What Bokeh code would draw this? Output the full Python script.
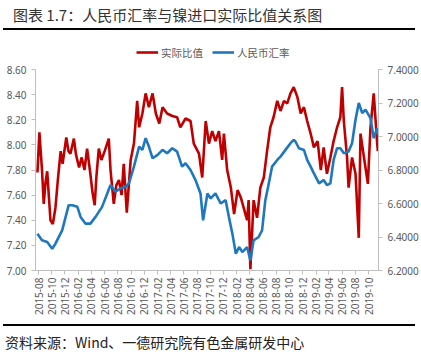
import math
import pandas as pd
from bokeh.plotting import figure
from bokeh.layouts import column
from bokeh.models import (Range1d, LinearAxis, FixedTicker, NumeralTickFormatter,
                          DatetimeTickFormatter, MonthsTicker, Legend, LegendItem,
                          ColumnDataSource, Div)
from bokeh.embed import file_html
from bokeh.resources import INLINE

# ---------------- data ----------------
ratio_dates = [
    "2015-07-27", "2015-08-05", "2015-08-17", "2015-08-25", "2015-09-02", "2015-09-10",
    "2015-09-18", "2015-09-25", "2015-10-06", "2015-10-18", "2015-10-29", "2015-11-11",
    "2015-11-20", "2015-12-07", "2015-12-17", "2015-12-26", "2016-01-11", "2016-01-21",
    "2016-02-04", "2016-02-16", "2016-02-29", "2016-03-12", "2016-03-27", "2016-04-06",
    "2016-04-16", "2016-04-24", "2016-05-05", "2016-05-17", "2016-06-01", "2016-06-20",
    "2016-06-28", "2016-07-13", "2016-07-25", "2016-08-06", "2016-08-18", "2016-08-28",
    "2016-09-11", "2016-09-29", "2016-10-14", "2016-10-29", "2016-11-07", "2016-11-22",
    "2016-12-07", "2016-12-22", "2017-01-08", "2017-01-23", "2017-02-08", "2017-02-23",
    "2017-03-16", "2017-04-09", "2017-05-01", "2017-05-16", "2017-06-09", "2017-07-02",
    "2017-07-17", "2017-08-10", "2017-08-25", "2017-09-10", "2017-09-25", "2017-10-10",
    "2017-10-25", "2017-11-10", "2017-11-25", "2017-12-03", "2017-12-18", "2018-01-04",
    "2018-01-19", "2018-02-04", "2018-02-19", "2018-03-04", "2018-03-20", "2018-03-27",
    "2018-04-04", "2018-04-19", "2018-05-05", "2018-05-20", "2018-06-05", "2018-06-20",
    "2018-07-05", "2018-07-20", "2018-08-06", "2018-08-21", "2018-09-06", "2018-09-21",
    "2018-10-06", "2018-10-21", "2018-11-07", "2018-11-22", "2018-12-07", "2018-12-22",
    "2019-01-07", "2019-01-22", "2019-02-08", "2019-02-23", "2019-03-08", "2019-03-23",
    "2019-04-08", "2019-04-23", "2019-05-09", "2019-05-24", "2019-06-01", "2019-06-09",
    "2019-06-24", "2019-07-01", "2019-07-17", "2019-08-02", "2019-08-17", "2019-08-25",
    "2019-09-10", "2019-09-28", "2019-10-10", "2019-10-25", "2019-11-10", "2019-11-13",
]
ratio_values = [
    7.78, 8.10, 7.80, 7.53, 7.70, 7.79,
    7.58, 7.40, 7.37, 7.50, 7.72, 7.95,
    7.85, 8.06, 7.95, 7.93, 8.05, 7.92,
    7.82, 7.90, 7.80, 7.97, 7.77, 7.62,
    7.52, 7.75, 7.97, 7.88, 7.95, 8.05,
    7.80, 7.53, 7.68, 7.72, 7.60, 7.85,
    7.46, 7.88, 8.01, 8.35, 8.14, 8.25,
    8.41, 8.30, 8.41, 8.25, 8.17, 8.30,
    8.25, 8.23, 8.22, 8.14, 8.21, 8.19,
    8.01, 7.93, 7.74, 8.19, 8.01, 8.11,
    8.03, 8.11, 7.88, 8.09, 7.80, 7.66,
    7.45, 7.64, 7.58, 7.50, 7.40, 7.56,
    7.01, 7.56, 7.42, 7.66, 7.74, 7.95,
    8.14, 8.22, 8.35, 8.27, 8.35, 8.33,
    8.41, 8.46, 8.38, 8.25, 8.30, 8.19,
    8.09, 7.98, 8.03, 7.80, 7.98, 7.77,
    7.90, 8.03, 8.14, 8.22, 8.46, 8.19,
    7.90, 7.66, 7.90, 7.77, 7.26, 8.09,
    7.90, 7.69, 8.14, 8.41, 8.01, 7.95,
]

fx_dates = [
    "2015-07-27", "2015-08-17", "2015-09-10", "2015-10-03", "2015-10-18", "2015-11-18",
    "2015-12-18", "2016-01-04", "2016-01-27", "2016-02-11", "2016-03-04", "2016-03-27",
    "2016-04-20", "2016-05-20", "2016-06-13", "2016-06-28", "2016-07-21", "2016-08-13",
    "2016-09-06", "2016-09-21", "2016-10-14", "2016-11-07", "2016-11-22", "2016-12-07",
    "2016-12-22", "2017-01-08", "2017-01-31", "2017-02-23", "2017-03-16", "2017-04-09",
    "2017-05-01", "2017-05-24", "2017-06-09", "2017-07-02", "2017-07-25", "2017-08-17",
    "2017-08-29", "2017-09-18", "2017-10-03", "2017-10-25", "2017-11-18", "2017-12-11",
    "2017-12-26", "2018-01-11", "2018-01-27", "2018-02-11", "2018-02-26", "2018-03-20",
    "2018-04-04", "2018-04-19", "2018-05-12", "2018-05-28", "2018-06-12", "2018-06-28",
    "2018-07-13", "2018-08-06", "2018-08-21", "2018-09-13", "2018-10-06", "2018-10-21",
    "2018-10-29", "2018-11-14", "2018-12-07", "2018-12-22", "2019-01-07", "2019-01-22",
    "2019-02-15", "2019-03-08", "2019-03-23", "2019-04-08", "2019-04-23", "2019-05-09",
    "2019-05-24", "2019-06-09", "2019-07-01", "2019-07-17", "2019-08-02", "2019-08-17",
    "2019-09-02", "2019-09-17", "2019-10-10", "2019-10-25", "2019-11-10",
]
fx_values = [
    6.42, 6.38, 6.37, 6.33, 6.36, 6.44,
    6.59, 6.59, 6.58, 6.52, 6.48, 6.48,
    6.52, 6.58, 6.66, 6.71, 6.67, 6.69,
    6.70, 6.72, 6.82, 6.94, 6.92, 6.99,
    6.94, 6.87, 6.89, 6.92, 6.90, 6.93,
    6.91, 6.82, 6.84, 6.80, 6.74, 6.66,
    6.50, 6.66, 6.63, 6.66, 6.60, 6.62,
    6.52, 6.42, 6.30, 6.34, 6.31, 6.34,
    6.26, 6.38, 6.40, 6.44, 6.62, 6.72,
    6.82, 6.86, 6.88, 6.92, 6.96, 6.98,
    6.97, 6.93, 6.92, 6.86, 6.82, 6.78,
    6.72, 6.74, 6.71, 6.72, 6.86, 6.93,
    6.93, 6.90, 6.91, 6.96, 7.10, 7.20,
    7.14, 7.16, 7.11, 6.99, 7.05,
]

left_ticks = [7.0, 7.2, 7.4, 7.6, 7.8, 8.0, 8.2, 8.4, 8.6]
right_ticks = [6.2, 6.4, 6.6, 6.8, 7.0, 7.2, 7.4]
series_names = ["实际比值", "人民币汇率"]
title_text = "图表 1.7：人民币汇率与镍进口实际比值关系图"
source_text = "资料来源：Wind、一德研究院有色金属研发中心"

RED = "#C00000"
BLUE = "#1F78BE"
TICK_COLOR = "#595959"
AXIS_COLOR = "#BFBFBF"
CJK = "Noto Sans CJK SC"

ratio_src = ColumnDataSource(dict(x=pd.to_datetime(ratio_dates), y=ratio_values))
fx_src = ColumnDataSource(dict(x=pd.to_datetime(fx_dates), y=fx_values))

# ---------------- main chart ----------------
p = figure(width=421, height=259, output_backend="svg", toolbar_location=None,
           x_axis_type="datetime",
           x_range=Range1d(pd.Timestamp("2015-07-18"), pd.Timestamp("2019-11-16")),
           y_range=Range1d(left_ticks[0], left_ticks[-1]),
           min_border_left=35, min_border_right=43, min_border_top=8, min_border_bottom=50)
p.extra_y_ranges = {"fx": Range1d(right_ticks[0], right_ticks[-1])}
p.outline_line_color = None
p.xgrid.visible = False
p.ygrid.visible = False

r_ratio = p.line("x", "y", source=ratio_src, color=RED, line_width=2.6)
r_fx = p.line("x", "y", source=fx_src, color=BLUE, line_width=2.6, y_range_name="fx")

def style_axis(ax):
    ax.axis_line_color = AXIS_COLOR
    ax.major_tick_line_color = AXIS_COLOR
    ax.minor_tick_line_color = None
    ax.major_tick_out = 4
    ax.major_tick_in = 0
    ax.major_label_text_color = TICK_COLOR
    ax.major_label_text_font = "Noto Sans"
    ax.major_label_text_font_size = "10px"

ya = p.yaxis[0]
ya.ticker = FixedTicker(ticks=left_ticks)
ya.formatter = NumeralTickFormatter(format="0.00")
style_axis(ya)
ya.major_label_standoff = 5

ra = LinearAxis(y_range_name="fx", ticker=FixedTicker(ticks=right_ticks),
                formatter=NumeralTickFormatter(format="0.0000"))
style_axis(ra)
ra.major_label_standoff = 5
p.add_layout(ra, "right")

xa = p.xaxis[0]
xa.ticker = MonthsTicker(months=[1, 3, 5, 7, 9, 11])
xa.formatter = DatetimeTickFormatter(months="%Y-%m", days="%Y-%m", years="%Y-%m")
xa.major_label_orientation = math.pi / 2
style_axis(xa)
xa.major_label_standoff = 3

# ---------------- legend strip ----------------
lg = figure(width=421, height=25, output_backend="svg", toolbar_location=None,
            x_range=Range1d(0, 1), y_range=Range1d(0, 1),
            x_axis_location=None, y_axis_location=None,
            min_border_left=0, min_border_right=0, min_border_top=0, min_border_bottom=0)
lg.outline_line_color = None
lg.xgrid.visible = False
lg.ygrid.visible = False
# legend keys only: lines placed outside the strip's visible range
k_ratio = lg.line(x=[-5, -4], y=[-5, -4], color=RED, line_width=2.6)
k_fx = lg.line(x=[-5, -4], y=[-5, -4], color=BLUE, line_width=2.6)
legend = Legend(items=[LegendItem(label=series_names[0], renderers=[k_ratio]),
                       LegendItem(label=series_names[1], renderers=[k_fx])],
                orientation="horizontal", location=(101, 1),
                label_text_font=CJK, label_text_font_size="10.5px",
                label_text_color=TICK_COLOR, glyph_width=22, glyph_height=16,
                label_height=16, label_standoff=3, spacing=9, padding=0, margin=0,
                background_fill_alpha=0, border_line_color=None)
lg.add_layout(legend, "center")

# ---------------- title / source ----------------
title_div = Div(
    text=(f'<div style="font-family:\'{CJK}\';font-size:15px;color:#333333;'
          f'line-height:30px;height:30px;width:412px;box-sizing:border-box;'
          f'padding-left:10px;white-space:nowrap;'
          f'border-bottom:2px solid #000000;">{title_text}</div>'),
    width=421, height=36, margin=(0, 0, 0, 3))
footer_div = Div(
    text=(f'<div style="border-top:2px solid #000000;width:412px;margin-top:4px;"></div>'
          f'<div style="font-family:\'{CJK}\';font-size:14px;color:#222222;'
          f'line-height:20px;margin-top:6px;padding-left:2px;white-space:nowrap;">{source_text}</div>'),
    width=421, height=36, margin=(0, 0, 0, 3))

layout = column(title_div, lg, p, footer_div, spacing=0)
open("out.html", "w").write(file_html(layout, INLINE))
